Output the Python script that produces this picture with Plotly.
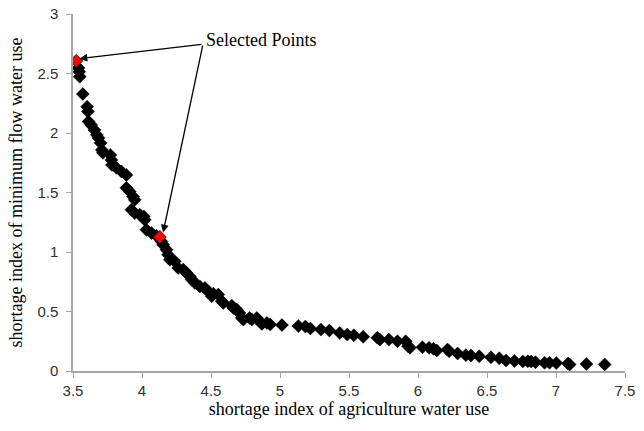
import plotly.graph_objects as go

# Pareto front points
agri = [3.540, 3.545, 3.549, 3.571, 3.603, 3.608, 3.613, 3.632, 3.656, 3.673,
        3.685, 3.700, 3.709, 3.717, 3.771, 3.778, 3.782, 3.814, 3.851, 3.887,
        3.887, 3.911, 3.935, 3.947, 3.923, 3.947, 3.984, 4.013, 4.020, 4.032,
        4.069, 4.105, 4.141, 4.153, 4.178, 4.189, 4.202, 4.238, 4.262, 4.299,
        4.323, 4.347, 4.360, 4.384, 4.420, 4.456, 4.480, 4.505, 4.517, 4.553,
        4.578, 4.589, 4.651, 4.662, 4.687, 4.706, 4.723, 4.735, 4.779, 4.796,
        4.832, 4.851, 4.869, 4.905, 4.929, 5.014, 5.133, 5.184, 5.220, 5.296,
        5.358, 5.433, 5.487, 5.535, 5.603, 5.705, 5.724, 5.789, 5.851, 5.911,
        5.928, 5.942, 6.032, 6.080, 6.112, 6.136, 6.214, 6.226, 6.287, 6.347,
        6.384, 6.444, 6.529, 6.589, 6.638, 6.699, 6.760, 6.796, 6.820, 6.851,
        6.917, 6.953, 7.002, 7.087, 7.099, 7.220, 7.353]
minflow = [2.546, 2.515, 2.473, 2.328, 2.221, 2.180, 2.096, 2.068, 2.026, 1.984,
           1.959, 1.917, 1.858, 1.833, 1.816, 1.774, 1.732, 1.707, 1.676, 1.648,
           1.539, 1.508, 1.466, 1.439, 1.355, 1.327, 1.313, 1.299, 1.271, 1.187,
           1.159, 1.137, 1.089, 1.061, 1.019, 0.977, 0.935, 0.921, 0.866, 0.852,
           0.824, 0.795, 0.768, 0.740, 0.711, 0.698, 0.669, 0.628, 0.650, 0.642,
           0.586, 0.572, 0.549, 0.530, 0.516, 0.488, 0.446, 0.432, 0.446, 0.432,
           0.446, 0.418, 0.396, 0.404, 0.390, 0.386, 0.378, 0.373, 0.357, 0.348,
           0.340, 0.320, 0.306, 0.300, 0.287, 0.279, 0.264, 0.264, 0.250, 0.250,
           0.208, 0.195, 0.200, 0.195, 0.186, 0.172, 0.180, 0.166, 0.147, 0.133,
           0.130, 0.124, 0.115, 0.107, 0.088, 0.084, 0.080, 0.082, 0.080, 0.074,
           0.069, 0.069, 0.067, 0.063, 0.055, 0.059, 0.055]

sel_agri = [3.523, 4.129]
sel_minflow = [2.605, 1.126]

x_ticks = [3.5, 4, 4.5, 5, 5.5, 6, 6.5, 7, 7.5]
x_tick_labels = ["3.5", "4", "4.5", "5", "5.5", "6", "6.5", "7", "7.5"]
y_ticks = [0, 0.5, 1, 1.5, 2, 2.5, 3]
y_tick_labels = ["0", "0.5", "1", "1.5", "2", "2.5", "3"]

label_text = "Selected Points"
label_pos = (4.45, 2.78)
arrow_tail = (4.442, 2.747)
arrow_tips = [(3.547, 2.625), (4.153, 1.164)]

fig = go.Figure()
fig.add_trace(go.Scatter(
    x=agri, y=minflow, mode="markers",
    marker=dict(symbol="diamond", size=10, color="black",
                line=dict(color="black", width=0.5)),
    showlegend=False, hoverinfo="x+y"))
fig.add_trace(go.Scatter(
    x=sel_agri, y=sel_minflow, mode="markers",
    marker=dict(symbol="diamond", size=10, color="#ff0000",
                line=dict(color="#222222", width=1)),
    showlegend=False, hoverinfo="x+y"))

annotations = [dict(
    x=label_pos[0], y=label_pos[1], xref="x", yref="y",
    text=label_text, showarrow=False, xanchor="left", yanchor="middle",
    font=dict(family="Liberation Serif", size=18, color="black"))]
for tx, ty in arrow_tips:
    annotations.append(dict(
        x=tx, y=ty, xref="x", yref="y",
        ax=arrow_tail[0], ay=arrow_tail[1], axref="x", ayref="y",
        text="", showarrow=True, arrowhead=2, arrowsize=1.2,
        arrowwidth=1.3, arrowcolor="black", standoff=0))

axis_font = dict(family="Liberation Sans", size=15, color="#303030")
title_font = dict(family="Liberation Serif", size=18, color="black")

fig.update_layout(
    width=644, height=431,
    margin=dict(l=73, r=19, t=14, b=60),
    paper_bgcolor="white", plot_bgcolor="white",
    annotations=annotations,
    xaxis=dict(range=[3.5, 7.5], tickvals=x_ticks, ticktext=x_tick_labels,
               showgrid=False, zeroline=False, showline=True,
               linecolor="#a6a6a6", linewidth=1.5, ticks="outside",
               ticklen=5, tickcolor="#a6a6a6", tickfont=axis_font,
               automargin=False,
               title=dict(text="shortage index of agriculture water use",
                          font=title_font, standoff=4)),
    yaxis=dict(range=[0, 3], tickvals=y_ticks, ticktext=y_tick_labels,
               showgrid=False, zeroline=False, showline=True,
               linecolor="#a6a6a6", linewidth=1.5, ticks="outside",
               ticklen=5, tickcolor="#a6a6a6", tickfont=axis_font,
               ticklabelstandoff=5, automargin=False,
               title=dict(text="shortage index of minimum flow water use",
                          font=title_font, standoff=10)),
)

# remove the default 8px page margin so the figure fills the window
fig.write_html("out.html",
               config={"displayModeBar": False},
               post_script="document.body.style.margin='0px';"
                           "document.body.style.overflow='hidden';")
